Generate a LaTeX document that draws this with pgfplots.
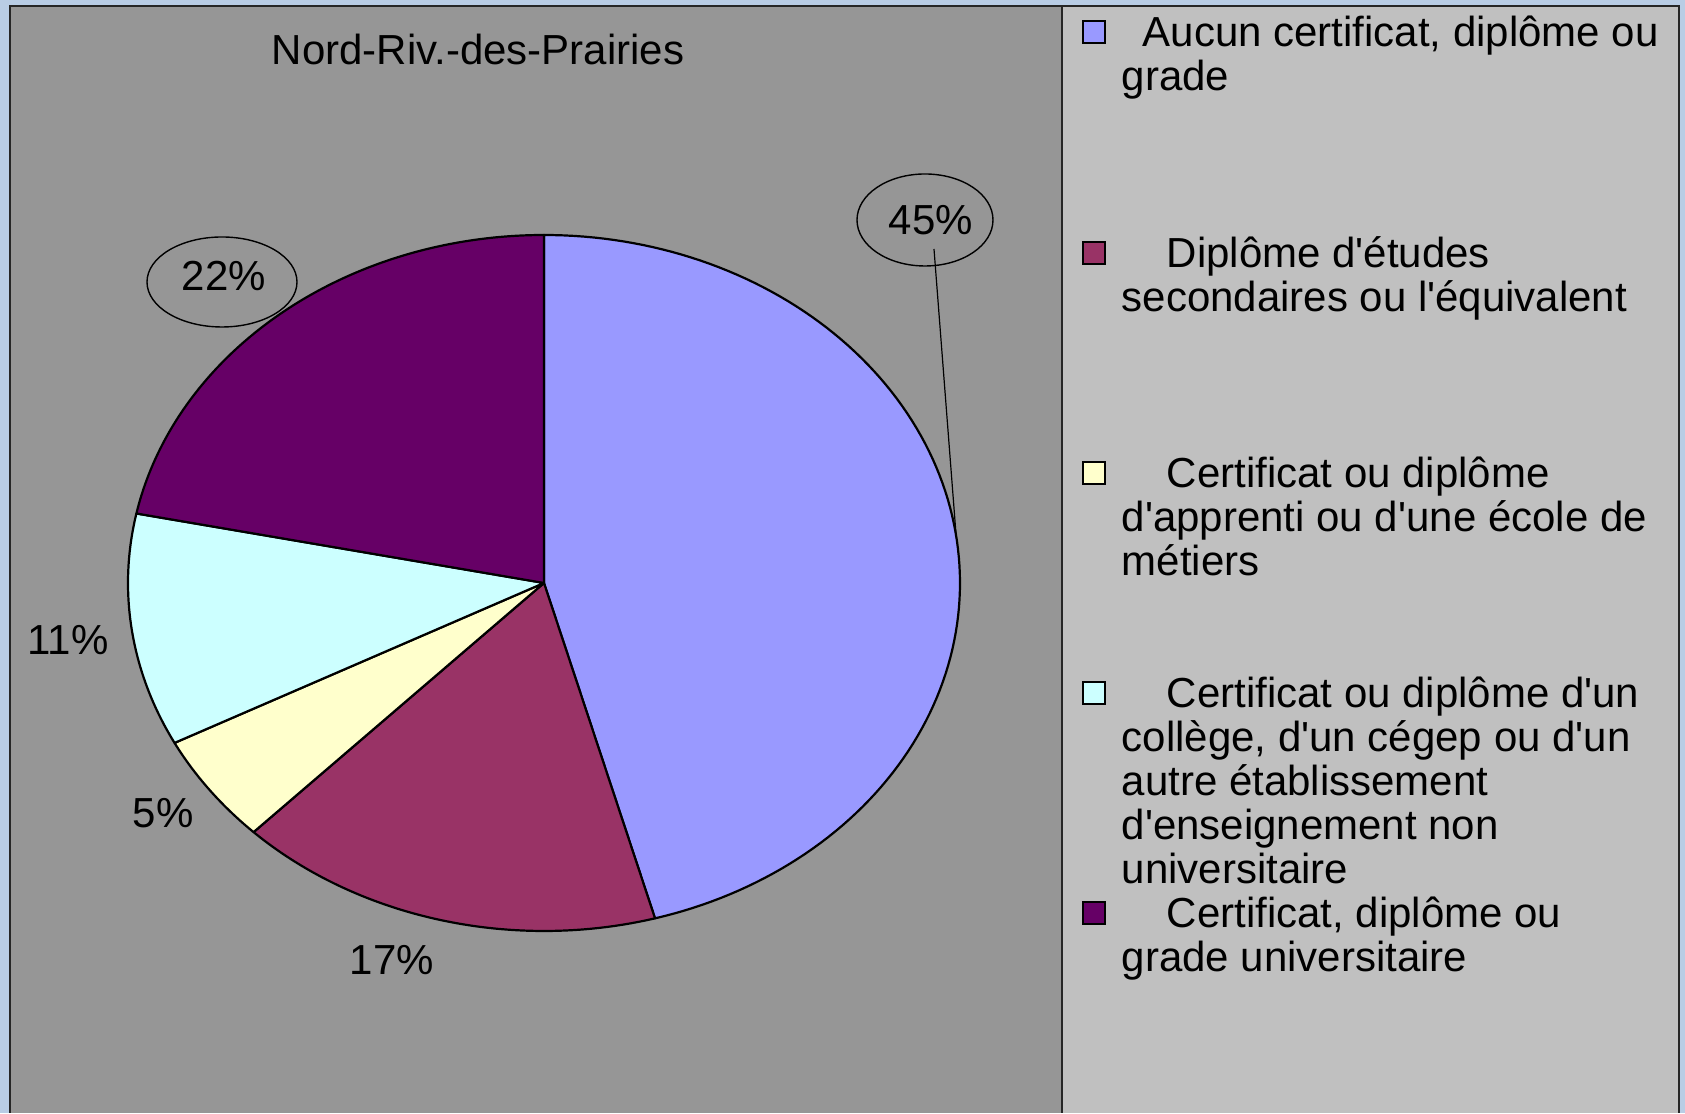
\documentclass[border=0pt]{standalone}
\usepackage{pgfplots}
\pgfplotsset{compat=1.18}
\usepackage{fontspec}
\newfontfamily\arial{Liberation Sans}
\definecolor{sA}{HTML}{9999FF}
\definecolor{sB}{HTML}{993366}
\definecolor{sC}{HTML}{FFFFCC}
\definecolor{sD}{HTML}{CCFFFF}
\definecolor{sE}{HTML}{660066}
\definecolor{bgblue}{HTML}{B9CDE5}
\definecolor{plotgray}{HTML}{969696}
\definecolor{leggray}{HTML}{C0C0C0}
% shares (percent) of each slice, clockwise from 12 o'clock
\def\vA{45.7}\def\vB{16.6}\def\vC{5.1}\def\vD{10.8}\def\vE{21.8}
\pgfmathsetmacro\cA{\vA}
\pgfmathsetmacro\cB{\cA+\vB}
\pgfmathsetmacro\cC{\cB+\vC}
\pgfmathsetmacro\cD{\cC+\vD}
\pgfmathsetmacro\cE{\cD+\vE}
\begin{document}
\arial\fontsize{10.5}{12}\selectfont
\begin{tikzpicture}
\begin{axis}[x=0.25pt,y=0.25pt,xmin=0,xmax=1685,ymin=0,ymax=1113,
  hide axis, clip=false,
  slice/.style={draw=black, line width=0.55pt, samples=120, variable=\t, line join=round}]
\fill[bgblue] (0,0) rectangle (1685,1113);
\fill[plotgray] (10,0) rectangle (1062,1107);
\fill[leggray] (1062,0) rectangle (1679,1107);
\draw[line width=0.4pt, black!85] (10,0) -- (10,1107) -- (1679,1107) -- (1679,0);
\draw[line width=0.4pt, black!85] (1062,0) -- (1062,1107);
% pie
\addplot[slice, fill=sA, domain=0:\cA] ({544+416*cos(90-3.6*t)}, {530+348*sin(90-3.6*t)}) -- (544,530) -- cycle;
\addplot[slice, fill=sB, domain=\cA:\cB] ({544+416*cos(90-3.6*t)}, {530+348*sin(90-3.6*t)}) -- (544,530) -- cycle;
\addplot[slice, fill=sC, domain=\cB:\cC] ({544+416*cos(90-3.6*t)}, {530+348*sin(90-3.6*t)}) -- (544,530) -- cycle;
\addplot[slice, fill=sD, domain=\cC:\cD] ({544+416*cos(90-3.6*t)}, {530+348*sin(90-3.6*t)}) -- (544,530) -- cycle;
\addplot[slice, fill=sE, domain=\cD:\cE] ({544+416*cos(90-3.6*t)}, {530+348*sin(90-3.6*t)}) -- (544,530) -- cycle;
% title
\node at (478,1063) {Nord-Riv.-des-Prairies};
% data labels
\draw[line width=0.35pt] (925,893) ellipse [x radius=17pt, y radius=11.5pt];
\draw[line width=0.3pt] (934,864) -- (956,579);
\node at (931,893) {45\%};
\draw[line width=0.35pt] (222,831) ellipse [x radius=18.75pt, y radius=11.25pt];
\node at (224,837) {22\%};
\node at (68,473) {11\%};
\node at (163,300) {5\%};
\node at (392,153) {17\%};
% legend
\filldraw[fill=sA, draw=black, line width=0.5pt] (1083,1070) rectangle (1105,1092);
\filldraw[fill=sB, draw=black, line width=0.5pt] (1083,849) rectangle (1105,871);
\filldraw[fill=sC, draw=black, line width=0.5pt] (1083,629) rectangle (1105,651);
\filldraw[fill=sD, draw=black, line width=0.5pt] (1083,409) rectangle (1105,431);
\filldraw[fill=sE, draw=black, line width=0.5pt] (1083,189) rectangle (1105,211);
\begin{scope}[every node/.append style={anchor=base west, inner sep=0pt}]
\node at (1142,1066) {Aucun certificat, diplôme ou};
\node at (1121,1022) {grade};
\node at (1166,845) {Diplôme d'études};
\node at (1121,801) {secondaires ou l'équivalent};
\node at (1166,625) {Certificat ou diplôme};
\node at (1121,581) {d'apprenti ou d'une école de};
\node at (1121,537) {métiers};
\node at (1166,405) {Certificat ou diplôme d'un};
\node at (1121,361) {collège, d'un cégep ou d'un};
\node at (1121,317) {autre établissement};
\node at (1121,273) {d'enseignement non};
\node at (1121,229) {universitaire};
\node at (1166,185) {Certificat, diplôme ou};
\node at (1121,141) {grade universitaire};
\end{scope}
\end{axis}
\end{tikzpicture}
\end{document}
